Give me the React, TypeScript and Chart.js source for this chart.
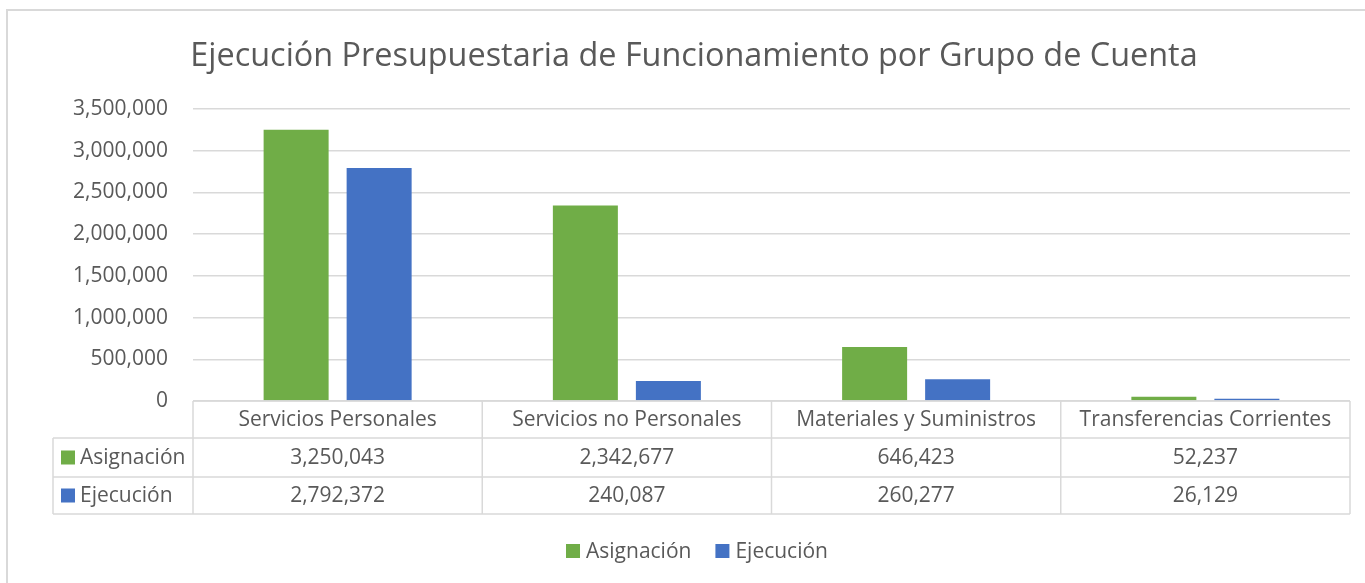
import React, { useEffect, useRef } from "react";
import { Chart, registerables } from "chart.js";

Chart.register(...registerables);

const title = "Ejecución Presupuestaria de Funcionamiento por Grupo de Cuenta";
const categories = [
  "Servicios Personales",
  "Servicios no Personales",
  "Materiales y Suministros",
  "Transferencias Corrientes",
];
const seriesNames = ["Asignación", "Ejecución"];
const asignacion = [3250043, 2342677, 646423, 52237];
const ejecucion = [2792372, 240087, 260277, 26129];
const seriesColors = ["#70AD47", "#4472C4"];

const yMax = 3500000;
const yStep = 500000;

const FONT = "'Open Sans', 'Noto Sans', sans-serif";
const TEXT = "#595959";
const LINE = "#D9D9D9";

const fmt = (v: number) => v.toLocaleString("en-US");

const W = 1365;
const H = 583;

const decorPlugin = {
  id: "decor",
  afterDraw(chart: any) {
    const ctx: CanvasRenderingContext2D = chart.ctx;
    const area = chart.chartArea;
    ctx.save();

    // outer border
    ctx.strokeStyle = LINE;
    ctx.lineWidth = 2;
    ctx.beginPath();
    ctx.moveTo(7, H);
    ctx.lineTo(7, 10);
    ctx.lineTo(W, 10);
    ctx.stroke();

    // title
    ctx.fillStyle = TEXT;
    ctx.font = `32.4px ${FONT}`;
    ctx.textAlign = "center";
    ctx.textBaseline = "middle";
    ctx.fillText(title, 694, 57);

    // data table
    const left = area.left;
    const right = area.right;
    const colW = (right - left) / categories.length;
    const tableLeft = 53;
    const yHeadTop = area.bottom;
    const yRow1 = yHeadTop + 37;
    const yRow2 = yRow1 + 39;
    const yBottom = yRow2 + 37;

    ctx.strokeStyle = LINE;
    ctx.lineWidth = 1.5;
    ctx.beginPath();
    ctx.moveTo(left, yHeadTop);
    ctx.lineTo(right, yHeadTop);
    [yRow1, yRow2, yBottom].forEach((y) => {
      ctx.moveTo(tableLeft, y);
      ctx.lineTo(right, y);
    });
    ctx.moveTo(tableLeft, yRow1);
    ctx.lineTo(tableLeft, yBottom);
    for (let i = 0; i <= categories.length; i++) {
      const x = left + i * colW;
      ctx.moveTo(x, yHeadTop);
      ctx.lineTo(x, yBottom);
    }
    ctx.stroke();

    ctx.font = `21px ${FONT}`;
    ctx.fillStyle = TEXT;
    ctx.textAlign = "center";
    ctx.textBaseline = "middle";
    categories.forEach((c, i) => {
      const cx = left + (i + 0.5) * colW;
      ctx.fillText(c, cx, (yHeadTop + yRow1) / 2 + 1);
      ctx.fillText(fmt(asignacion[i]), cx, (yRow1 + yRow2) / 2 + 1);
      ctx.fillText(fmt(ejecucion[i]), cx, (yRow2 + yBottom) / 2 + 1);
    });

    const rowMids = [(yRow1 + yRow2) / 2, (yRow2 + yBottom) / 2];
    seriesNames.forEach((name, k) => {
      const my = rowMids[k];
      ctx.fillStyle = seriesColors[k];
      ctx.fillRect(61, my - 7, 14, 14);
      ctx.fillStyle = TEXT;
      ctx.textAlign = "left";
      ctx.fillText(name, 80, my + 1);
    });

    // bottom legend
    const gapBox = 6;
    const gapItem = 24;
    const widths = seriesNames.map((n) => ctx.measureText(n).width);
    const total =
      widths.reduce((a, b) => a + b, 0) + seriesNames.length * (14 + gapBox) + gapItem;
    let x = 697 - total / 2;
    const ly = 551;
    seriesNames.forEach((name, k) => {
      ctx.fillStyle = seriesColors[k];
      ctx.fillRect(x, ly - 7, 14, 14);
      x += 14 + gapBox;
      ctx.fillStyle = TEXT;
      ctx.textAlign = "left";
      ctx.fillText(name, x, ly + 1);
      x += widths[k] + gapItem;
    });

    ctx.restore();
  },
};

export default function App() {
  const ref = useRef<HTMLCanvasElement | null>(null);

  useEffect(() => {
    if (!ref.current) return;
    const chart = new Chart(ref.current, {
      type: "bar",
      data: {
        labels: categories,
        datasets: [
          {
            label: seriesNames[0],
            data: asignacion,
            backgroundColor: seriesColors[0],
            categoryPercentage: 0.574,
            barPercentage: 0.783,
          },
          {
            label: seriesNames[1],
            data: ejecucion,
            backgroundColor: seriesColors[1],
            categoryPercentage: 0.574,
            barPercentage: 0.783,
          },
        ],
      },
      options: {
        responsive: false,
        animation: false,
        layout: { padding: { left: 0, top: 109, right: 15, bottom: 182 } },
        plugins: {
          legend: { display: false },
          title: { display: false },
          tooltip: { enabled: false },
        },
        scales: {
          x: { display: false },
          y: {
            min: 0,
            max: yMax,
            border: { display: false },
            grid: { color: LINE, lineWidth: 1.5, drawTicks: false },
            ticks: {
              stepSize: yStep,
              color: TEXT,
              font: { family: FONT, size: 21 },
              padding: 25,
              callback: (v: any) => fmt(Number(v)),
            },
            afterFit: (scale: any) => {
              scale.width = 193;
            },
          },
        },
      },
      plugins: [decorPlugin],
    });
    return () => chart.destroy();
  }, []);

  return (
    <div style={{ position: "absolute", left: 0, top: 0, width: W, height: H, background: "#fff" }}>
      <canvas ref={ref} width={W} height={H} style={{ display: "block" }} />
    </div>
  );
}
